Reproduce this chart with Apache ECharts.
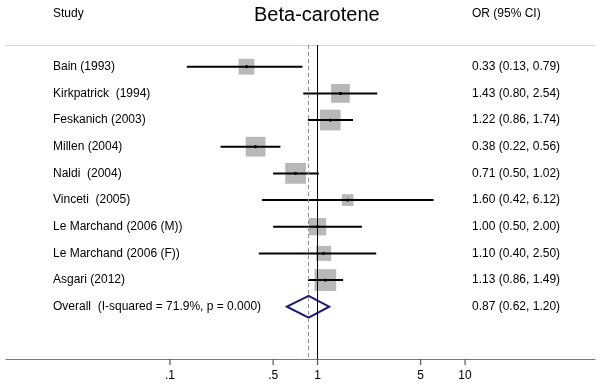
<!DOCTYPE html>
<html><head><meta charset="utf-8">
<script src="https://cdn.jsdelivr.net/npm/echarts@6/dist/echarts.min.js"></script>
<style>html,body{margin:0;padding:0;background:#fff}#c{width:602px;height:386px}</style>
</head><body><div id="c"></div>
<script>
const studies = ['Bain (1993)','Kirkpatrick  (1994)','Feskanich (2003)','Millen (2004)','Naldi  (2004)','Vinceti  (2005)','Le Marchand (2006 (M))','Le Marchand (2006 (F))','Asgari (2012)','Overall  (I-squared = 71.9%, p = 0.000)'];
const orVals = [0.33,1.43,1.22,0.38,0.71,1.60,1.00,1.10,1.13,0.87];
const ciLow  = [0.13,0.80,0.86,0.22,0.50,0.42,0.50,0.40,0.86,0.62];
const ciHigh = [0.79,2.54,1.74,0.56,1.02,6.12,2.00,2.50,1.49,1.20];
const weights = [8.3,11.8,14.4,13.1,14.4,4.6,10.1,7.6,15.8,null];
const tickVals = [0.1,0.5,1,5,10];
const tickLabels = ['.1','.5','1','5','10'];
const overallIdx = 9;

const FONT = '"Liberation Sans", Arial, sans-serif';
const lg = v => Math.log10(v);
const fmt = v => v.toFixed(2);
const orText = orVals.map((v,i) => fmt(v)+' ('+fmt(ciLow[i])+', '+fmt(ciHigh[i])+')');
const rowIdx = studies.map((s,i)=>i);
const X_MIN = -2.112, X_MAX = 1.881, Y_MIN = -0.814, Y_MAX = 10.96;

const data = studies.map((s,i)=>[lg(orVals[i]), i, lg(ciLow[i]), lg(ciHigh[i]), weights[i]]);

const chart = echarts.init(document.getElementById('c'), null, {renderer:'canvas'});
chart.setOption({
  animation:false,
  backgroundColor:'#fff',
  graphic:[
    {type:'text', left:53, top:8, style:{text:'Study', font:'12px '+FONT, fill:'#000'}},
    {type:'text', left:254, top:5, style:{text:'Beta-carotene', font:'20px '+FONT, fill:'#000'}},
    {type:'text', left:472, top:8, style:{text:'OR (95% CI)', font:'12px '+FONT, fill:'#000'}}
  ],
  grid:{left:6, right:7, top:45, bottom:27, containLabel:false},
  xAxis:[{
    type:'value', min:X_MIN, max:X_MAX, position:'bottom',
    axisLine:{show:true, onZero:false, lineStyle:{color:'#7a7a7a', width:1}},
    axisTick:{show:false},
    axisLabel:{show:true, margin:11, customValues:tickVals.map(lg), fontSize:12, fontFamily:FONT, color:'#000',
      formatter:v => { const k = tickVals.findIndex(t=>Math.abs(lg(t)-v)<1e-6); return k>=0?tickLabels[k]:''; }},
    splitLine:{show:false}
  },{
    type:'value', min:X_MIN, max:X_MAX, position:'top',
    axisLine:{show:true, onZero:false, lineStyle:{color:'#d4d4d4', width:1}},
    axisTick:{show:false}, axisLabel:{show:false}, splitLine:{show:false}
  }],
  yAxis:[{
    type:'value', min:Y_MIN, max:Y_MAX, inverse:true, position:'left',
    axisLine:{show:false, onZero:false}, axisTick:{show:false}, splitLine:{show:false},
    axisLabel:{show:true, inside:true, margin:47, customValues:rowIdx, fontSize:12, fontFamily:FONT, color:'#000',
      formatter:v => studies[Math.round(v)]}
  },{
    type:'value', min:Y_MIN, max:Y_MAX, inverse:true, position:'right',
    axisLine:{show:false, onZero:false}, axisTick:{show:false}, splitLine:{show:false},
    axisLabel:{show:true, inside:true, margin:123, align:'left', customValues:rowIdx, fontSize:12, fontFamily:FONT, color:'#000',
      formatter:v => orText[Math.round(v)]}
  }],
  series:[{
    type:'custom',
    xAxisIndex:0, yAxisIndex:0,
    data:data,
    encode:{x:[0,2,3], y:1},
    renderItem:(params, api) => {
      const i = api.value(1);
      const c = api.coord([api.value(0), i]);
      const l = api.coord([api.value(2), i]);
      const h = api.coord([api.value(3), i]);
      if (i === overallIdx) {
        const hh = 10.8;
        return {type:'polygon', shape:{points:[[l[0],c[1]],[c[0],c[1]-hh],[h[0],c[1]],[c[0],c[1]+hh]]},
          style:{fill:'none', stroke:'#1c1c6e', lineWidth:2}};
      }
      const side = 5.46*Math.sqrt(api.value(4));
      return {type:'group', children:[
        {type:'rect', shape:{x:c[0]-side/2, y:c[1]-side/2, width:side, height:side}, style:{fill:'#b8b8b8'}},
        {type:'line', shape:{x1:l[0], y1:c[1], x2:h[0], y2:c[1]}, style:{stroke:'#000', lineWidth:2}},
        {type:'circle', shape:{cx:c[0], cy:c[1], r:1.6}, style:{fill:'#000'}}
      ]};
    },
    markLine:{
      silent:true, symbol:'none', label:{show:false},
      data:[
        {xAxis:lg(1), lineStyle:{color:'#000', width:1, type:'solid'}},
        {xAxis:lg(orVals[overallIdx]), lineStyle:{color:'#a08c8c', width:1, type:[4,3]}}
      ]
    },
    z:3
  },{
    type:'scatter',
    xAxisIndex:0, yAxisIndex:0,
    silent:true, clip:false,
    data:tickVals.map(t=>[lg(t), Y_MAX]),
    symbol:'rect', symbolSize:[1.2,6], symbolOffset:[0,3],
    itemStyle:{color:'#555', opacity:1},
    z:4
  }]
});
</script></body></html>
